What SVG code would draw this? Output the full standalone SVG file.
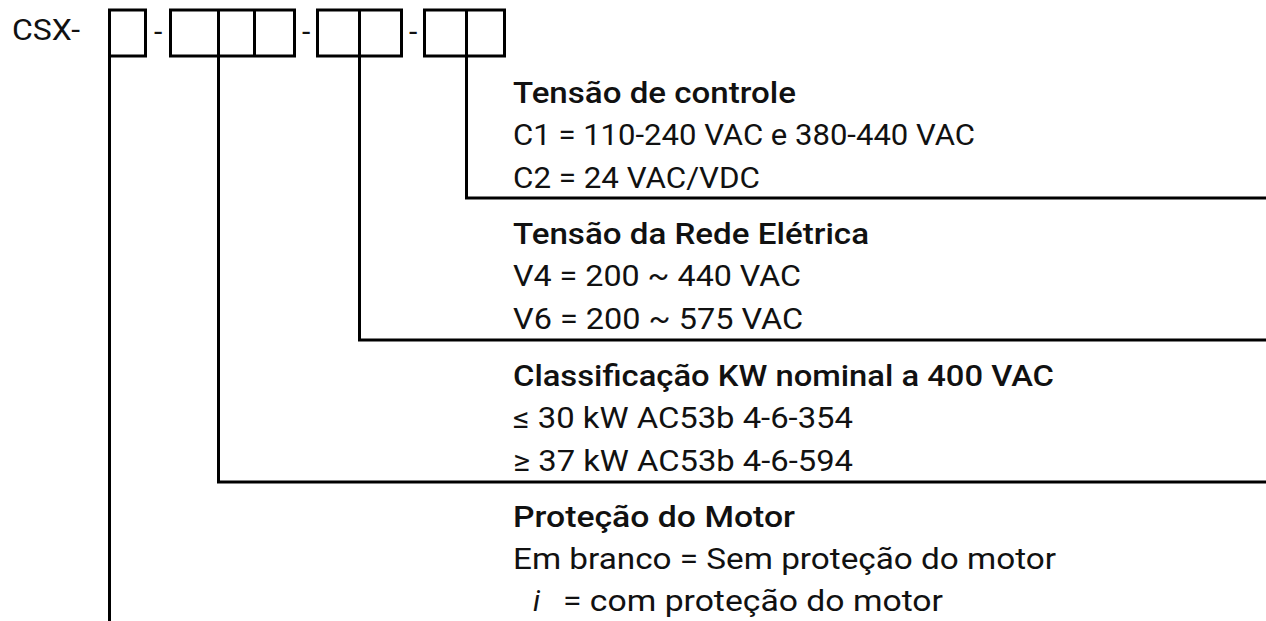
<svg xmlns="http://www.w3.org/2000/svg" width="1266" height="621" viewBox="0 0 1266 621">
<style>
.t{font-family:Roboto,"Liberation Sans",sans-serif;font-size:30px;fill:#111}
.h{font-weight:500}
.ln{stroke:#000;stroke-width:3;fill:none}
</style>
<rect width="1266" height="621" fill="#fff"/>
<g id="code">
<text class="t" x="12" y="40" font-size="25" textLength="68" lengthAdjust="spacingAndGlyphs">CSX-</text>
<rect class="ln" x="109.5" y="10" width="36" height="46"/>
<text class="t" x="154" y="42">-</text>
<rect class="ln" x="170.5" y="10" width="124" height="46"/>
<line class="ln" x1="218.5" y1="10" x2="218.5" y2="56"/>
<line class="ln" x1="254.5" y1="10" x2="254.5" y2="56"/>
<text class="t" x="302" y="42">-</text>
<rect class="ln" x="317.5" y="10" width="84" height="46"/>
<line class="ln" x1="359.5" y1="10" x2="359.5" y2="56"/>
<text class="t" x="409" y="42">-</text>
<rect class="ln" x="424.5" y="10" width="80" height="46"/>
<line class="ln" x1="466.5" y1="10" x2="466.5" y2="56"/>
</g>
<g id="connectors">
<polyline class="ln" points="466.5,56 466.5,198 1266,198"/>
<polyline class="ln" points="359.5,56 359.5,340 1266,340"/>
<polyline class="ln" points="218.5,56 218.5,482 1266,482"/>
<line class="ln" x1="109.5" y1="56" x2="109.5" y2="621"/>
</g>
<g id="tensao-controle">
<text class="t h" x="513" y="103" textLength="283" lengthAdjust="spacingAndGlyphs">Tensão de controle</text>
<text class="t" x="513" y="145" textLength="462" lengthAdjust="spacingAndGlyphs">C1 = 110-240 VAC e 380-440 VAC</text>
<text class="t" x="513" y="188" textLength="247" lengthAdjust="spacingAndGlyphs">C2 = 24 VAC/VDC</text>
</g>
<g id="tensao-rede">
<text class="t h" x="513" y="244" textLength="356" lengthAdjust="spacingAndGlyphs">Tensão da Rede Elétrica</text>
<text class="t" x="513" y="286" textLength="288" lengthAdjust="spacingAndGlyphs">V4 = 200 ~ 440 VAC</text>
<text class="t" x="513" y="329" textLength="290" lengthAdjust="spacingAndGlyphs">V6 = 200 ~ 575 VAC</text>
</g>
<g id="classificacao">
<text class="t h" x="513" y="386" textLength="541" lengthAdjust="spacingAndGlyphs">Classificação KW nominal a 400 VAC</text>
<text class="t" x="513" y="428" textLength="340" lengthAdjust="spacingAndGlyphs">≤ 30 kW AC53b 4-6-354</text>
<text class="t" x="513" y="471" textLength="340" lengthAdjust="spacingAndGlyphs">≥ 37 kW AC53b 4-6-594</text>
</g>
<g id="protecao">
<text class="t h" x="513" y="527" textLength="282" lengthAdjust="spacingAndGlyphs">Proteção do Motor</text>
<text class="t" x="513" y="569" textLength="543" lengthAdjust="spacingAndGlyphs">Em branco = Sem proteção do motor</text>
<text class="t" x="533" y="611" font-style="italic">i</text>
<text class="t" x="563" y="611" textLength="380" lengthAdjust="spacingAndGlyphs">= com proteção do motor</text>
</g>
</svg>
